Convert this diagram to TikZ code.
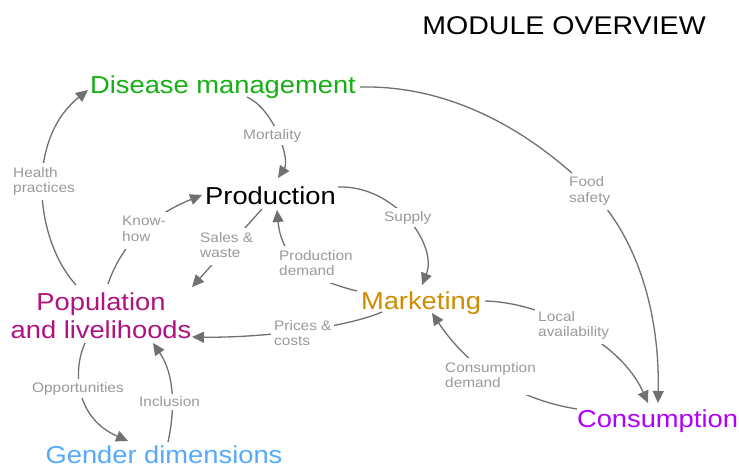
\documentclass[tikz,border=0pt]{standalone}
\usepackage{fontspec}
\setmainfont{Liberation Sans}[FakeStretch=1.115]
\usetikzlibrary{arrows.meta}

\definecolor{dmgreen}{HTML}{14B014}
\definecolor{mkorange}{HTML}{CF8C00}
\definecolor{popmagenta}{HTML}{B0137F}
\definecolor{gdblue}{HTML}{55AAFB}
\definecolor{cnviolet}{HTML}{B000FF}
\definecolor{tagtext}{HTML}{9A9A9A}
\definecolor{wire}{HTML}{707070}

% lines of a node, first baseline on the node's base
\newcommand\linesof[2][l]{\begin{tabular}[t]{@{}#1@{}}#2\end{tabular}}

\pgfdeclarelayer{paper}
\pgfdeclarelayer{wires}
\pgfsetlayers{paper,wires,main}

\begin{document}
\begin{tikzpicture}[x=1pt,y=-1pt,
  module/.style={anchor=base,inner sep=0pt,font=\fontsize{24.5}{28}\selectfont},
  tag/.style={anchor=base west,inner sep=3pt,fill=white,text=tagtext,
              font=\fontsize{13.8}{15.5}\selectfont},
  link/.style={draw=wire,line width=1.3pt,-{Triangle[length=12pt,width=11pt]}},
  ]
\begin{pgfonlayer}{paper}
\fill[white] (0,0) rectangle (739,467);
\end{pgfonlayer}
\useasboundingbox (0,0) rectangle (739,467);

% title
\node[module,font=\fontsize{25.6}{28}\selectfont] (title) at (564,34) {MODULE OVERVIEW};

% modules
\node[module,text=dmgreen]    (dm)   at (223,93)  {Disease management};
\node[module]                 (prod) at (270.5,204) {Production};
\node[module,text=mkorange]   (mkt)  at (421,309) {Marketing};
\node[module,text=popmagenta] (pop)  at (101,310) {\linesof[c]{Population\\and livelihoods}};
\node[module,text=gdblue]     (gd)   at (164,463) {Gender dimensions};
\node[module,text=cnviolet]   (cons) at (657.5,427) {Consumption};

% connector labels
\node[tag] (mort)   at (240,139)   {Mortality};
\node[tag] (health) at (10,177)    {\linesof{Health\\practices}};
\node[tag] (know)   at (119,225.7) {\linesof{Know-\\how}};
\node[tag] (sales)  at (197,242)   {\linesof{Sales \&\\waste}};
\node[tag] (pdem)   at (276,260)   {\linesof{Production\\demand}};
\node[tag] (prices) at (271,330)   {\linesof{Prices \&\\costs}};
\node[tag] (opp)    at (29,392)    {Opportunities};
\node[tag] (incl)   at (136,406.7) {Inclusion};
\node[tag] (supply) at (381,221)   {Supply};
\node[tag] (food)   at (566,186.7) {\linesof{Food\\safety}};
\node[tag] (local)  at (535,321)   {\linesof{Local\\availability}};
\node[tag] (cdem)   at (442,372.3) {\linesof{Consumption\\demand}};

% connector end points on the modules
\coordinate (dm-mort)     at (247,97);
\coordinate (prod-mort)   at (278,178);
\coordinate (pop-health)  at (76,285);
\coordinate (dm-health)   at (88,90);
\coordinate (pop-know)    at (108,284);
\coordinate (prod-know)   at (202,195);
\coordinate (prod-sales)  at (262,209);
\coordinate (pop-sales)   at (192,287);
\coordinate (mkt-pdem)    at (357,291);
\coordinate (prod-pdem)   at (277,210);
\coordinate (prod-supply) at (338,187);
\coordinate (mkt-supply)  at (422,285);
\coordinate (mkt-prices)  at (382,312);
\coordinate (pop-prices)  at (192,337);
\coordinate (pop-opp)     at (85,343);
\coordinate (gd-opp)      at (128,441);
\coordinate (gd-incl)     at (168,442);
\coordinate (pop-incl)    at (153,343);
\coordinate (mkt-local)   at (485,301);
\coordinate (cons-local)  at (648,403);
\coordinate (cons-cdem)   at (577,409);
\coordinate (mkt-cdem)    at (432,313);
\coordinate (dm-food)     at (360,87);
\coordinate (food-mid)    at (592,192);
\coordinate (cons-food)   at (658,403);

% connectors run underneath their labels
\begin{pgfonlayer}{wires}
\draw[link] (dm-mort) .. controls (275,110) and (290,160) .. (prod-mort);
\draw[link] (pop-health) .. controls (35,240) and (25,140) .. (dm-health);
\draw[link] (pop-know) .. controls (118,255) and (140,220) .. (prod-know);
\draw[link] (prod-sales) -- (pop-sales);
\draw[link] (mkt-pdem) .. controls (320,282) and (282,265) .. (prod-pdem);
\draw[link] (prod-supply) .. controls (395,185) and (438,245) .. (mkt-supply);
\draw[link] (mkt-prices) .. controls (345,328) and (260,338) .. (pop-prices);
\draw[link] (pop-opp) .. controls (72,372) and (76,418) .. (gd-opp);
\draw[link] (gd-incl) .. controls (175,410) and (175,375) .. (pop-incl);
\draw[link] (mkt-local) .. controls (540,302) and (620,340) .. (cons-local);
\draw[link] (cons-cdem) .. controls (520,400) and (470,370) .. (mkt-cdem);
\draw[link] (dm-food) .. controls (450,85) and (530,130) .. (food-mid)
            .. controls (630,230) and (660,300) .. (cons-food);
\end{pgfonlayer}
\end{tikzpicture}
\end{document}
